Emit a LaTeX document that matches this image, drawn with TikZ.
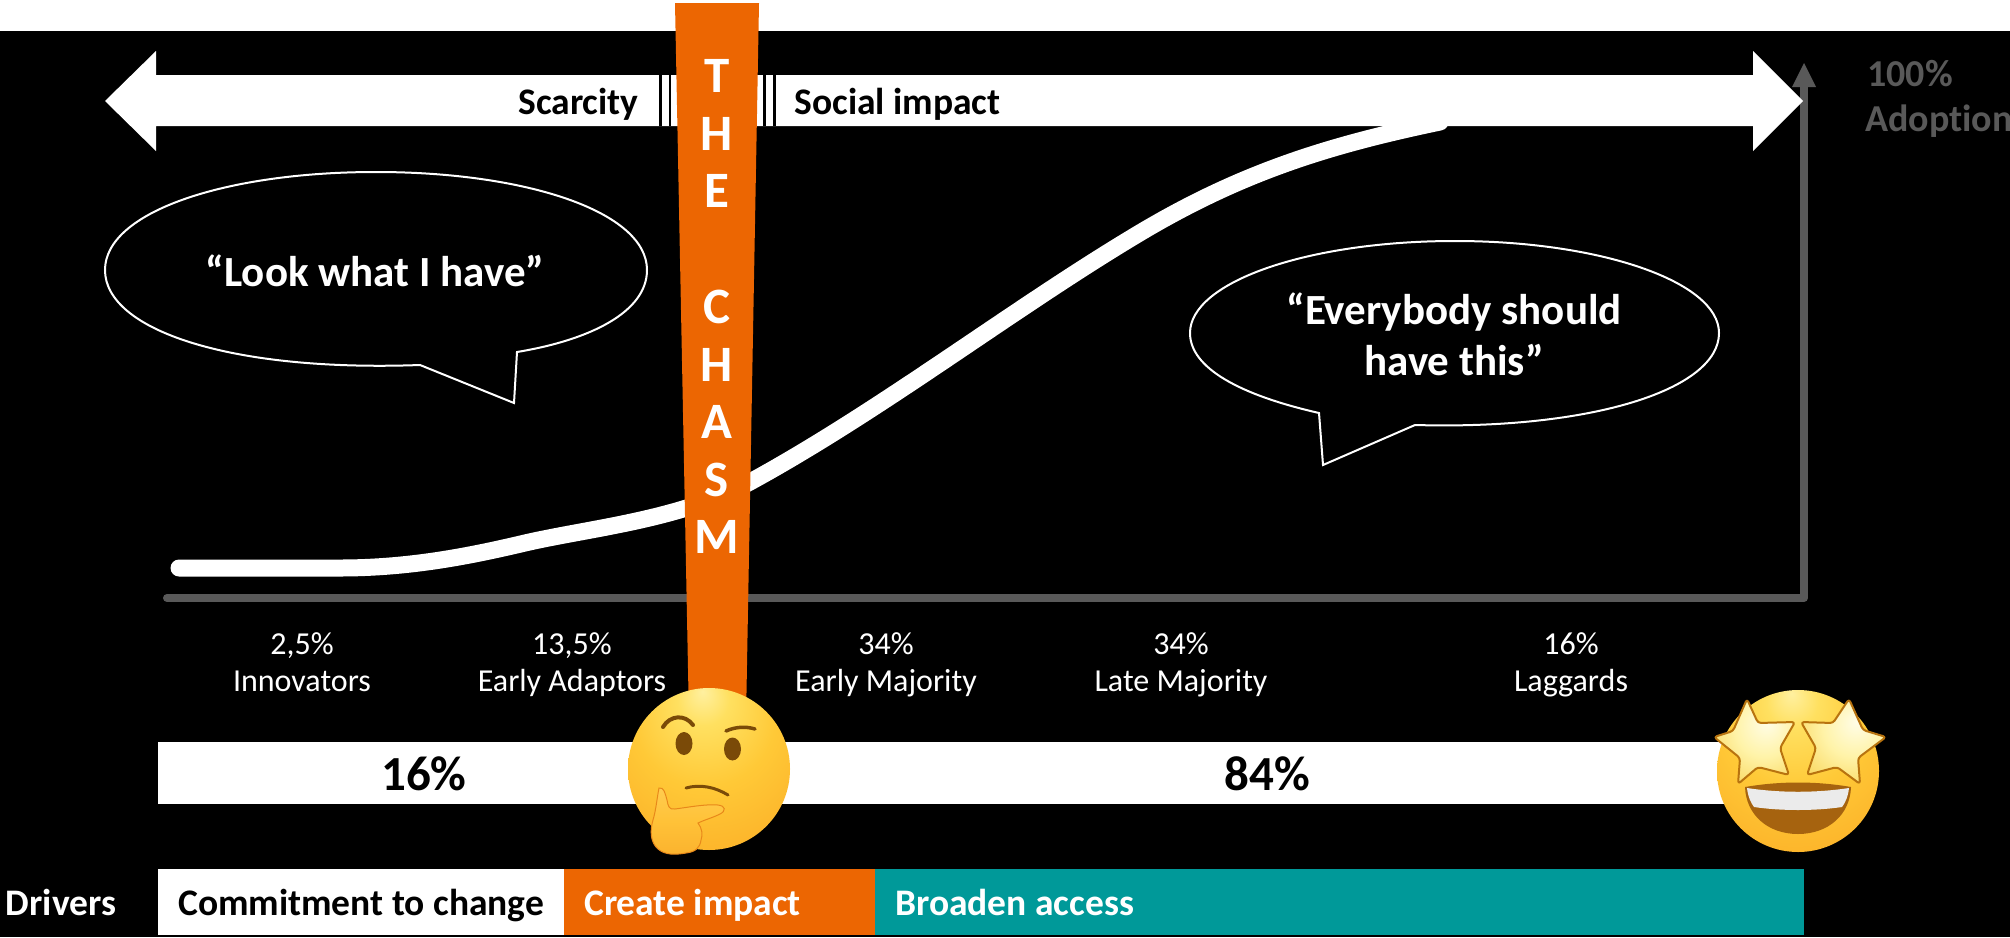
\documentclass[tikz,border=0pt]{standalone}
\usepackage{fontspec}
\setmainfont{Carlito}[Ligatures={TeX,CommonOff}]
\usetikzlibrary{shapes.geometric}
\definecolor{chasm}{HTML}{EC6602}
\definecolor{tealbar}{HTML}{009999}
\definecolor{axisgrey}{HTML}{595959}
\definecolor{emobrown}{HTML}{7A4A08}
\definecolor{emoa}{HTML}{FFF0A0}
\definecolor{emob}{HTML}{FFE060}
\definecolor{emoc}{HTML}{FFC937}
\definecolor{emod}{HTML}{FBAB25}
\definecolor{emoe}{HTML}{E8881A}
\definecolor{starline}{HTML}{B8730F}
\definecolor{stara}{HTML}{FFFDE8}
\definecolor{starb}{HTML}{FFF3A8}
\definecolor{starc}{HTML}{F6C93A}
\definecolor{handa}{HTML}{FFD768}
\definecolor{handb}{HTML}{FFC238}
\definecolor{handc}{HTML}{F7A324}
\pgfdeclareradialshading{emoface}{\pgfpoint{-2bp}{24bp}}{%
 color(0bp)=(emoa); color(8bp)=(emob); color(22bp)=(emoc); color(45bp)=(emod); color(72bp)=(emoe)}
\pgfdeclareradialshading{emostar}{\pgfpoint{8bp}{12bp}}{%
 color(0bp)=(stara); color(18bp)=(starb); color(45bp)=(starc); color(70bp)=(starc)}
\pgfdeclareverticalshading{emohand}{100bp}{color(0bp)=(handc); color(50bp)=(handb); color(100bp)=(handa)}
\tikzset{
  txt/.style={inner sep=0pt,anchor=base,font=\fontsize{32}{32}\selectfont,text=white},
  txtb/.style={inner sep=0pt,anchor=base,font=\bfseries\fontsize{37.5}{37.5}\selectfont,text=black},
  bigb/.style={inner sep=0pt,anchor=base,font=\bfseries\fontsize{49}{49}\selectfont,text=black},
  quote/.style={inner sep=0pt,anchor=base,font=\bfseries\fontsize{43}{43}\selectfont,text=white},
  adopt/.style={inner sep=0pt,anchor=base west,font=\bfseries\fontsize{38}{38}\selectfont,text=axisgrey},
  letter/.style={inner sep=0pt,anchor=base,font=\bfseries\fontsize{51}{51}\selectfont,text=white},
  bubble/.style={draw=white,line width=2pt,fill=black,line join=miter},
  stripe/.style={fill=black},
  brow/.style={draw=emobrown,line width=4pt,line cap=round},
  starshape/.style={shading=emostar,draw=starline,line width=2pt,line join=round,rounded corners=3pt},
}
\begin{document}
\begin{tikzpicture}[x=1pt,y=-1pt]
\useasboundingbox (0,0) rectangle (2010,937);
\fill[white] (0,0) rectangle (2010,937);
\fill[black] (0,31) rectangle (2010,937);
% axes
\draw[axisgrey,line width=8pt,line cap=round,line join=round] (167,598) -- (1804,598) -- (1804,86);
\fill[axisgrey] (1792,87) -- (1804,63) -- (1816,87) -- cycle;
% curve
\draw[white,line width=17pt,line cap=round] (179,568) -- (340,568)
  .. controls (410,568) and (470,556) .. (525,543)
  .. controls (590,528) and (680,520) .. (750,482)
  .. controls (880,411) and (1010,311) .. (1133,237)
  .. controls (1240,172) and (1330,145) .. (1440,122);
% double arrow
\fill[white] (105,101) -- (156,51) -- (156,75) -- (1753,75) -- (1753,51) -- (1803,101) -- (1753,151) -- (1753,126) -- (156,126) -- (156,151) -- cycle;
\fill[stripe] (659,75) rectangle (662,126);
\fill[stripe] (669,75) rectangle (671,126);
\fill[stripe] (763,75) rectangle (766,126);
\fill[stripe] (773,75) rectangle (776,126);
\node[txtb] (scarcity) at (578.5,114) {Scarcity};
\node[txtb] (social) at (897.5,114) {Social impact};
% bubbles
\draw[bubble] (420,365) .. controls (230,372) and (105,330) .. (105,270)
  .. controls (105,212) and (225,172) .. (376,172)
  .. controls (527,172) and (647,212) .. (647,270)
  .. controls (647,312) and (590,340) .. (517,352) -- (514,403) -- cycle;
\draw[bubble] (1319,413) .. controls (1240,395) and (1190,368) .. (1190,333)
  .. controls (1190,282) and (1308,241) .. (1455,241)
  .. controls (1601,241) and (1719,282) .. (1719,333)
  .. controls (1719,390) and (1590,430) .. (1415,425) -- (1323,465) -- cycle;
\node[quote] (look) at (375,286.5) {“Look what I have”};
\node[quote] (every) at (1454,324) {“Everybody should};
\node[quote] (have) at (1454,375) {have this”};
% chasm
\fill[chasm] (675,3) -- (759,3) -- (746,720) -- (689,720) -- cycle;
\foreach \yy/\c/\n in {92/T/a,150/H/b,207/E/c,323/C/d,381/H/e,438/A/f,496/S/g,553/M/h}
  \node[letter] (ch\n) at (717,\yy) {\c};
% adoption
\node[adopt] (hundred) at (1867,86.5) {100\%};
\node[adopt] (adoption) at (1865,131) {Adoption};
% segment labels
\foreach \xx/\p/\l/\n in {302/{2,5\%}/Innovators/a,572/{13,5\%}/Early Adaptors/b,886/{34\%}/Early Majority/c,1181/{34\%}/Late Majority/d,1571/{16\%}/Laggards/e}{
  \node[txt] (pct\n) at (\xx,654) {\p};
  \node[txt] (seg\n) at (\xx,691) {\l};
}
% share bar
\fill[white] (158,742) rectangle (1730,804);
\node[bigb] (sixteen) at (424,790.5) {16\%};
\node[bigb] (eightyfour) at (1267,790.5) {84\%};
% drivers
\fill[white] (158,869) rectangle (564,935);
\fill[chasm] (564,869) rectangle (875,935);
\fill[tealbar] (875,869) rectangle (1804,935);
\node[txtb,text=white] (drivers) at (61,915.5) {Drivers};
\node[txtb,anchor=base west] (commit) at (178,915.5) {Commitment to change};
\node[txtb,anchor=base west,text=white] (create) at (584,915.5) {Create impact};
\node[txtb,anchor=base west,text=white] (broaden) at (895,915.5) {Broaden access};
% thinking face
\shade[shading=emoface] (709,769) circle (81);
\fill[emobrown] (684,743.5) ellipse [x radius=8.5,y radius=11.5];
\fill[emobrown] (732.5,749) ellipse [x radius=8.5,y radius=11.5];
\draw[brow] (663,727) .. controls (670,715) and (685,714) .. (693,725);
\draw[brow,line width=3.5pt] (726,731) .. controls (735,727) and (745,726) .. (755,729);
\draw[brow,line width=3pt] (686,788) .. controls (700,784) and (715,787) .. (728,795);
\shade[shading=emohand,draw=emoe,line width=1pt]
  (659,788) .. controls (664,787) and (665,793) .. (667,800)
  .. controls (668,806) and (669,810) .. (675,809)
  .. controls (690,807) and (705,804) .. (718,805)
  .. controls (726,806) and (726,811) .. (720,814)
  .. controls (712,818) and (704,820) .. (698,823)
  .. controls (702,828) and (703,835) .. (701,840)
  .. controls (700,848) and (695,852) .. (686,853)
  .. controls (675,855) and (665,855) .. (658,849)
  .. controls (650,842) and (650,830) .. (653,820)
  .. controls (656,810) and (657,798) .. (659,788) -- cycle;
% star-struck face
\shade[shading=emoface] (1798,771) circle (81);
\fill[emobrown!60!emoe] (1745,787) .. controls (1780,781) and (1816,781) .. (1851,787) .. controls (1850,815) and (1828,834) .. (1798,834) .. controls (1768,834) and (1746,815) .. (1745,787) -- cycle;
\fill[white!92!black] (1747,788) .. controls (1780,793) and (1816,793) .. (1849,788) .. controls (1848,797) and (1845,803) .. (1842,807) .. controls (1815,811) and (1781,811) .. (1754,807) .. controls (1751,803) and (1748,797) .. (1747,788) -- cycle;
\shade[starshape]
  (1747,699) -- (1758,723) -- (1795,722) -- (1780,748) -- (1789,775) -- (1758,767) -- (1738,784) -- (1740,758) -- (1714,737) -- (1733,731) -- cycle;
\shade[starshape]
  (1849,699) -- (1863,730) -- (1886,737) -- (1858,758) -- (1860,784) -- (1837,767) -- (1807,775) -- (1816,748) -- (1801,722) -- (1833,723) -- cycle;
\end{tikzpicture}
\end{document}
